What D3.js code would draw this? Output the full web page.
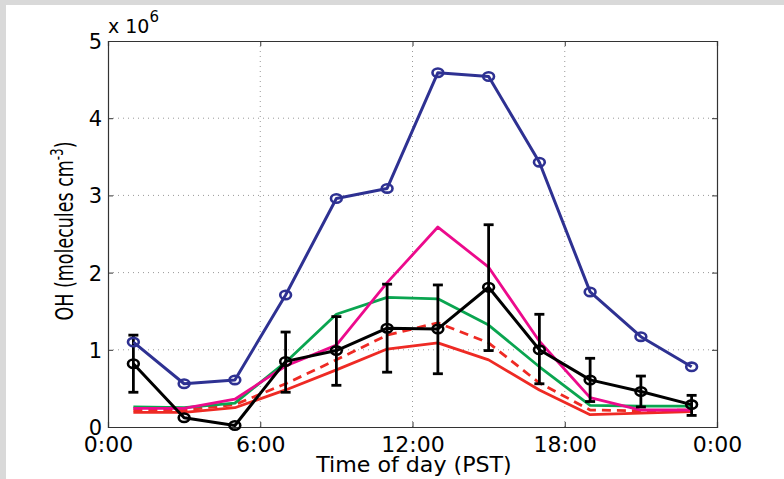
<!DOCTYPE html>
<html>
<head>
<meta charset="utf-8">
<script src="https://cdn.jsdelivr.net/npm/d3@7"></script>
<style>
  html, body { margin: 0; padding: 0; background: #d9d9d9; }
  svg { display: block; }
  text { font-family: "DejaVu Sans", "Open Sans", sans-serif; fill: #000; }
</style>
</head>
<body>
<svg id="chart" width="784" height="479"></svg>
<script>
// Hour of day (PST) for each hourly-bin value
const hours = [1, 3, 5, 7, 9, 11, 13, 15, 17, 19, 21, 23];

// OH concentrations in units of 1e6 molecules cm^-3
const modelBlue    = [1.10, 0.56, 0.61, 1.71, 2.96, 3.09, 4.59, 4.54, 3.43, 1.75, 1.17, 0.78];
const observed     = [0.82, 0.12, 0.02, 0.85, 0.99, 1.28, 1.27, 1.81, 1.00, 0.61, 0.46, 0.29];
const obsLow       = [0.45, null, null, 0.45, 0.54, 0.71, 0.69, 0.99, 0.56, 0.33, 0.26, 0.15];
const obsHigh      = [1.19, null, null, 1.23, 1.43, 1.85, 1.84, 2.62, 1.46, 0.89, 0.66, 0.41];
const modelGreen   = [0.26, 0.25, 0.31, 0.84, 1.46, 1.68, 1.66, 1.32, 0.78, 0.28, 0.27, 0.27];
const modelPink    = [0.24, 0.24, 0.36, 0.79, 1.06, 1.87, 2.59, 2.07, 1.11, 0.38, 0.22, 0.22];
const modelRedDash = [0.22, 0.22, 0.29, 0.56, 0.87, 1.19, 1.35, 1.09, 0.57, 0.22, 0.21, 0.22];
const modelRed     = [0.19, 0.19, 0.25, 0.48, 0.74, 1.01, 1.09, 0.87, 0.48, 0.16, 0.18, 0.20];

const xTicks = [0, 6, 12, 18, 24];
const xTickLabels = ["0:00", "6:00", "12:00", "18:00", "0:00"];
const yTicks = [0, 1, 2, 3, 4, 5];

const svg = d3.select("#chart");

// white figure panel
svg.append("rect").attr("x", 6).attr("y", 5).attr("width", 778).attr("height", 474).attr("fill", "#fff");

const L = 108, R = 717, T = 41, B = 427;
const x = d3.scaleLinear().domain([0, 24]).range([L, R]);
const y = d3.scaleLinear().domain([0, 5]).range([B, T]);

// dotted grid
const grid = svg.append("g").attr("stroke", "#999").attr("stroke-width", 1).attr("stroke-dasharray", "1,4");
grid.selectAll(".gx").data(xTicks.slice(1, -1)).join("line")
  .attr("x1", d => x(d)).attr("x2", d => x(d)).attr("y1", T).attr("y2", B);
grid.selectAll(".gy").data(yTicks.slice(1, -1)).join("line")
  .attr("x1", L).attr("x2", R).attr("y1", d => y(d)).attr("y2", d => y(d));

// axes: ticks point inward, mirrored on the top and right edges
const axB = svg.append("g").attr("transform", `translate(0,${B})`)
  .call(d3.axisBottom(x).tickValues(xTicks).tickSize(-5).tickFormat((d, i) => xTickLabels[i]));
const axT = svg.append("g").attr("transform", `translate(0,${T})`)
  .call(d3.axisTop(x).tickValues(xTicks).tickSize(-5).tickFormat(""));
const axL = svg.append("g").attr("transform", `translate(${L},0)`)
  .call(d3.axisLeft(y).tickValues(yTicks).tickSize(-5).tickPadding(6).tickFormat(d3.format("d")));
const axR = svg.append("g").attr("transform", `translate(${R},0)`)
  .call(d3.axisRight(y).tickValues(yTicks).tickSize(-5).tickFormat(""));
[axB, axT, axL, axR].forEach(a => {
  a.selectAll(".domain").attr("stroke", "#333").attr("stroke-width", 1.2);
  a.selectAll(".tick line").attr("stroke", "#333");
  a.selectAll("text").style("font-size", "21px").attr("fill", "#000").style("font-family", null);
});
axB.selectAll("text").attr("y", 25).attr("dy", 0).style("font-size", "22px");
axL.selectAll("text").attr("dy", "0.36em").attr("x", -6);

const line = d3.line().x((d, i) => x(hours[i])).y(d => y(d));

function drawLine(vals, color, dash, w) {
  svg.append("path").datum(vals)
    .attr("fill", "none").attr("stroke", color).attr("stroke-width", w || 2.8)
    .attr("stroke-linejoin", "round")
    .attr("stroke-dasharray", dash || null)
    .attr("d", line);
}

function drawMarkers(vals, color) {
  svg.append("g").selectAll("ellipse").data(vals).join("ellipse")
    .attr("cx", (d, i) => x(hours[i])).attr("cy", d => y(d))
    .attr("rx", 5.4).attr("ry", 4.2)
    .attr("fill", "none").attr("stroke", color).attr("stroke-width", 2.6);
}

drawLine(modelRed, "#ee2a24");
drawLine(modelRedDash, "#ee2a24", "9,6");
drawLine(modelGreen, "#0aa550");
drawLine(modelPink, "#ec0a8c");

// observations with error bars
const err = svg.append("g").attr("stroke", "#000").attr("stroke-width", 2.8);
hours.forEach((h, i) => {
  if (obsLow[i] == null) return;
  err.append("line").attr("x1", x(h)).attr("x2", x(h)).attr("y1", y(obsLow[i])).attr("y2", y(obsHigh[i]));
  err.append("line").attr("x1", x(h) - 5).attr("x2", x(h) + 5).attr("y1", y(obsLow[i])).attr("y2", y(obsLow[i]));
  err.append("line").attr("x1", x(h) - 5).attr("x2", x(h) + 5).attr("y1", y(obsHigh[i])).attr("y2", y(obsHigh[i]));
});
drawLine(observed, "#000", null, 3);
drawMarkers(observed, "#000");

drawLine(modelBlue, "#2e3192", null, 3);
drawMarkers(modelBlue, "#2e3192");

// exponent label
const ex = svg.append("text").attr("x", L).attr("y", 33).style("font-size", "19px");
ex.append("tspan").text("x 10");
ex.append("tspan").attr("dy", -11).style("font-size", "15px").text("6");

// axis titles
svg.append("text").attr("transform", "translate(414,472) scale(1.08,1)")
  .attr("text-anchor", "middle").style("font-size", "20.5px").text("Time of day (PST)");
const yl = svg.append("text").attr("transform", "translate(73,231) rotate(-90) scale(0.7,1)")
  .attr("text-anchor", "middle").style("font-size", "25px");
yl.append("tspan").text("OH  (molecules cm");
yl.append("tspan").attr("dy", -10).style("font-size", "17px").text("-3");
yl.append("tspan").attr("dy", 10).text(")");
</script>
</body>
</html>
